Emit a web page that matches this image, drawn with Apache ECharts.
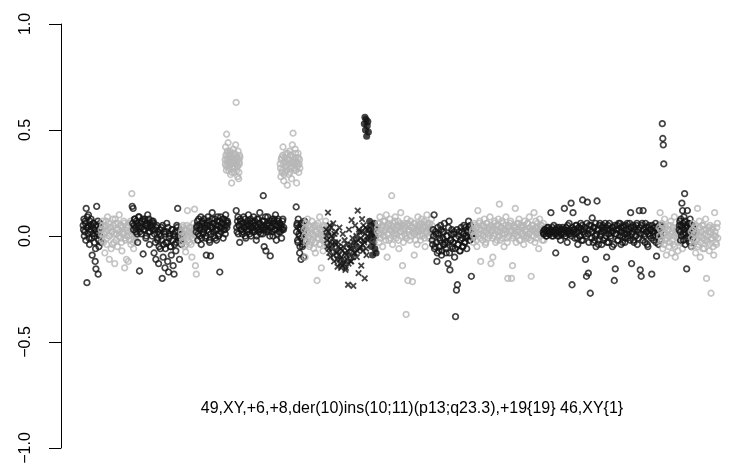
<!DOCTYPE html>
<html>
<head>
<meta charset="utf-8">
<script src="https://cdn.jsdelivr.net/npm/echarts@6/dist/echarts.min.js"></script>
<style>
  html, body { margin: 0; padding: 0; background: #ffffff; }
  #chart { width: 733px; height: 468px; }
</style>
</head>
<body>
<div id="chart"></div>
<script>
// Log2 ratio per probe, listed chromosome by chromosome in genome order.
const chr1 = [0.05,0.03, 0.08,0.0, 0.02,0.07, 0.06,-0.02, 0.13,0.04, -0.22,0.09, 0.04,0.01, 0.10,0.05, -0.01,-0.04, 0.07,0.02, 0.03,0.08, 0.05,-0.01, -0.09,0.04, 0.01,0.06, 0.06,0.0, -0.03,0.03, -0.12,-0.06, -0.155,0.05, 0.14,0.01, 0.02,0.07, -0.18,-0.02, -0.05,0.03, 0.0,0.06, 0.04,-0.03];
const chr2 = [0.03,0.01, -0.02,0.05, 0.07,-0.03, 0.01,0.04, -0.08,0.02, 0.05,0.07, -0.04,-0.01, 0.09,0.03, 0.0,0.06, -0.11,0.0, 0.04,0.04, -0.06,0.02, 0.02,-0.04, 0.08,0.05, -0.03,0.01, -0.13,0.08, 0.06,-0.02, 0.01,0.03, -0.05,0.06, 0.03,0.0, 0.1,0.02, -0.01,0.05, 0.05,-0.03, -0.07,0.04, 0.02,0.01, 0.07,0.06, -0.15,-0.01, -0.02,0.03, -0.11,0.0, 0.04,0.05, -0.12,0.02, 0.0,-0.02, 0.06,0.07, -0.04,0.01, 0.2,0.04, 0.03,-0.03, -0.06,0.02, 0.08,0.06, -0.02,0.0, 0.01,0.03];
const chr3 = [0.14,0.06, 0.13,0.03, 0.05,0.08, 0.08,0.04, 0.02,0.07, 0.06,0.01, -0.03,0.05, 0.09,0.09, -0.165,0.02, 0.04,0.06, 0.01,0.04, 0.07,0.08, -0.085,0.03, 0.03,0.07, 0.08,0.05, -0.01,0.0, 0.05,0.06, 0.1,0.04, 0.02,0.08, -0.04,0.02, 0.06,0.05, 0.04,0.07, 0.0,0.03, 0.07,0.06, -0.08,0.01, 0.03,-0.03, -0.11,0.04, 0.05,-0.01, -0.02,0.02, -0.13,-0.05, 0.01,0.03, -0.06,0.0, 0.04,-0.02, -0.2,0.05, -0.1,-0.04, 0.02,0.01, -0.15,-0.06, -0.03,0.02, 0.06,-0.03, -0.12,0.04, -0.17,-0.01, 0.01,0.0, -0.05,-0.05, -0.09,0.03, 0.03,-0.02, -0.14,0.01, -0.18,-0.04, 0.0,0.02, -0.07,-0.03, 0.05,0.04, 0.13,0.0, -0.02,-0.01, -0.11,0.03, 0.02,-0.02, -0.04,0.01];
const chr4 = [0.02,0.0, -0.03,0.04, 0.05,-0.02, 0.0,0.03, -0.05,0.01, -0.075,-0.04, 0.03,0.05, 0.12,0.0, -0.02,0.02, 0.04,-0.03, 0.01,0.04, -0.04,0.01, -0.1,-0.01, 0.02,0.03, 0.06,-0.02, 0.127,0.02, -0.14,0.0, -0.18,0.04];
const chr5 = [0.02,0.04, 0.05,0.07, -0.02,0.01, 0.08,0.05, 0.0,0.03, 0.04,0.09, -0.04,-0.01, 0.07,0.06, 0.01,0.02, 0.03,0.08, 0.06,0.04, -0.01,0.0, -0.09,0.06, 0.05,0.03, 0.09,0.07, 0.02,-0.02, -0.03,0.05, -0.094,0.01, 0.04,0.08, 0.11,0.04, 0.06,0.02, 0.0,0.06, 0.08,-0.01, 0.03,0.05, -0.02,0.03, 0.07,0.09, 0.05,0.0, 0.01,0.07, -0.17,0.04, 0.09,0.02, 0.04,0.06, 0.06,0.08, -0.01,0.03, 0.08,0.05, 0.03,0.01, 0.1,0.07, 0.05,0.04, 0.07,0.06];
const chr6 = [0.36,0.34, 0.42,0.38, 0.33,0.31, 0.48,0.36, 0.39,0.4, 0.35,0.33, 0.44,0.37, 0.31,0.35, 0.38,0.32, 0.34,0.39, 0.4,0.36, 0.29,0.34, 0.36,0.38, 0.25,0.3, 0.37,0.35, 0.32,0.37, 0.41,0.33, 0.35,0.39, 0.3,0.36, 0.39,0.32, 0.34,0.38, 0.43,0.35, 0.63,0.34, 0.37,0.31, 0.33,0.37, 0.28,0.33, 0.4,0.36, 0.27,0.3, 0.35,0.34, 0.38,0.37];
const chr7 = [0.12,0.04, 0.02,0.07, 0.09,0.01, 0.05,0.05, -0.03,0.08, 0.07,0.03, 0.03,0.06, 0.01,0.02, 0.06,0.09, 0.04,0.04, 0.08,0.0, -0.01,0.06, 0.05,0.03, 0.02,0.07, 0.1,0.05, 0.03,0.01, 0.06,0.08, 0.0,0.04, 0.07,0.02, 0.04,0.06, 0.09,0.03, 0.02,0.07, 0.05,0.05, -0.02,0.0, 0.08,0.04, 0.03,0.08, 0.06,0.02, 0.11,0.06, 0.01,0.03, 0.04,0.05, 0.07,0.01, 0.19,0.07, -0.05,0.04, 0.03,0.09, -0.07,0.02, 0.05,0.06, 0.09,0.03, 0.02,0.05, 0.06,0.0, -0.094,0.07, 0.04,0.04, 0.08,0.02, 0.0,0.06, 0.07,0.08, 0.03,0.03, 0.1,0.05, -0.02,0.01, 0.05,0.07, 0.08,0.04, 0.02,0.06, 0.06,0.02, 0.04,0.05, -0.01,0.03, 0.07,0.08, 0.03,0.04];
const chr8 = [0.34,0.32, 0.28,0.36, 0.37,0.3, 0.31,0.38, 0.42,0.34, 0.26,0.29, 0.35,0.37, 0.3,0.33, 0.39,0.35, 0.33,0.31, 0.24,0.39, 0.36,0.34, 0.29,0.36, 0.4,0.3, 0.32,0.38, 0.38,0.33, 0.27,0.35, 0.43,0.37, 0.485,0.32, 0.35,0.36, 0.31,0.34, 0.41,0.39, 0.37,0.31, 0.25,0.35, 0.34,0.33, 0.39,0.37, 0.3,0.34, 0.36,0.32];
const chr9 = [0.137,0.02, 0.05,0.06, -0.02,-0.03, 0.08,0.04, 0.01,0.0, -0.08,-0.05, 0.04,0.03, -0.11,-0.01, 0.06,0.05, -0.05,-0.04, 0.02,0.01, -0.1,0.03, 0.07,-0.02];
const chr10 = [0.03,0.0, -0.1,0.04, 0.06,-0.03, -0.02,0.02, 0.08,-0.01, 0.0,0.05, -0.05,-0.04, 0.04,0.01, -0.03,0.03, 0.07,-0.02, 0.01,0.04, -0.06,0.0, 0.05,-0.03, -0.08,0.02, 0.02,0.05, -0.21,-0.01, 0.06,0.01, -0.01,-0.04, 0.09,0.03, -0.04,0.0, -0.15,0.02, 0.03,-0.02, -0.07,0.04, 0.05,-0.01, -0.02,0.03, 0.07,-0.03, 0.0,0.01, -0.05,0.02];
// chr11: the inserted stretch (crosses) and the distal q arm (filled dots)
const chr11ins = [0.03,0.0, -0.02,-0.05, 0.11,0.02, -0.06,-0.08, 0.05,-0.03, -0.1,0.04, 0.0,-0.06, -0.04,-0.01, 0.06,-0.09, -0.12,0.01, -0.03,-0.04, 0.02,-0.07, -0.08,-0.11, -0.145,-0.03, -0.05,-0.09, 0.04,-0.13, -0.11,-0.06, -0.15,-0.1, -0.07,-0.14, 0.01,-0.05, -0.13,-0.12, -0.02,-0.08, -0.16,-0.15, -0.09,-0.11, -0.04,-0.07, -0.23,-0.13, 0.03,-0.09, -0.06,-0.04, -0.12,-0.12, 0.075,-0.06, -0.01,-0.1, -0.235,-0.03, -0.08,-0.08, 0.05,-0.05, -0.03,0.0, -0.1,-0.07, 0.12,-0.02, -0.175,0.03, 0.02,-0.06, -0.05,-0.01, -0.14,0.02, 0.08,-0.04, -0.07,0.05, -0.02,-0.03, -0.2,0.01, 0.04,-0.06, -0.09,0.03, 0.0,-0.02];
const chr11q = [0.53, 0.56, 0.5, 0.55, 0.47, 0.52, 0.54, 0.49, 0.03, 0.07, -0.01, 0.05, -0.05, 0.01, -0.09, 0.02, -0.03, 0.06, -0.06, 0.0, -0.08, 0.04];
const chr12 = [0.02,0.04, 0.06,0.01, -0.03,0.06, 0.09,-0.01, 0.01,0.03, 0.04,0.05, -0.05,0.0, 0.07,0.02, 0.0,0.07, 0.03,-0.02, 0.1,0.04, -0.1,0.01, 0.05,0.06, -0.02,0.03, 0.08,-0.01, 0.03,0.05, 0.19,0.02, -0.04,0.04, 0.06,0.0, 0.01,0.07, 0.09,0.03, -0.01,0.01, 0.04,0.05, 0.07,-0.02, -0.06,0.04, 0.02,0.06, 0.11,0.02, 0.05,0.0, -0.14,0.03, -0.03,0.05, 0.06,0.01, 0.0,0.04, -0.37,-0.01, 0.08,0.06, -0.21,0.02, 0.03,0.03, -0.02,0.05, 0.07,0.0, 0.04,0.04, -0.215,0.02, 0.01,0.06, -0.09,0.01, 0.06,-0.02, 0.02,0.03, -0.04,0.05, 0.09,0.02, 0.03,0.04, 0.05,0.0, -0.02,0.06, 0.08,0.03, 0.0,0.01, 0.04,0.05, 0.07,-0.01, -0.05,0.04, 0.02,0.02, 0.1,0.06, 0.05,0.03, -0.01,0.0, 0.06,0.04, 0.03,0.02, 0.08,0.05, 0.01,0.01];
const chr13 = [-0.02,-0.04, 0.03,0.0, 0.1,-0.06, -0.05,0.02, 0.01,-0.03, -0.12,-0.08, 0.04,0.01, -0.07,-0.05, -0.01,-0.02, 0.05,0.03, -0.09,-0.07, 0.02,-0.01, -0.04,0.02, 0.06,-0.04, -0.03,-0.06, -0.08,0.0, 0.0,-0.03, -0.13,0.04, 0.07,-0.08, -0.16,-0.02, -0.02,0.01, 0.03,-0.05, -0.06,-0.03, 0.01,0.02, -0.1,-0.06, -0.38,-0.01, -0.255,0.03, -0.23,-0.04, -0.04,0.0, 0.02,-0.07, -0.07,-0.02, 0.04,0.02, -0.01,-0.05, -0.05,0.01, 0.05,-0.03, -0.03,0.04, 0.0,-0.01, -0.06,0.02, 0.03,0.0, 0.07,0.04, -0.02,-0.02, 0.05,0.03, -0.19,0.01, 0.01,-0.01];
const chr14 = [0.02,0.03, -0.03,0.0, 0.06,0.05, 0.0,0.02, 0.04,-0.02, -0.05,0.04, 0.12,0.01, 0.03,0.06, 0.07,-0.01, -0.12,0.03,
  0.01,0.05, -0.02,0.0, 0.05,0.02, 0.08,0.04, -0.04,-0.03, 0.02,0.06, 0.06,0.01, -0.01,0.03, 0.04,0.0, 0.09,0.05,
  -0.13,0.02, 0.03,-0.01, -0.1,0.04, 0.0,0.06, 0.07,0.01, -0.03,0.03, 0.05,-0.02, 0.02,0.05, 0.08,0.0, 0.15,0.02,
  -0.02,0.04, 0.04,0.07, 0.01,-0.01, 0.06,0.03, -0.05,0.01, 0.03,0.05, 0.09,0.02, -0.01,-0.03, -0.2,0.04, 0.05,0.0,
  0.02,0.06, 0.07,0.02, -0.2,0.03, -0.14,-0.01, 0.0,0.05, 0.04,0.01, 0.13,0.04, -0.03,0.0, 0.06,0.03, 0.02,0.06,
  0.08,-0.02, -0.02,0.02, 0.05,0.04, 0.01,0.01, 0.04,0.05, -0.04,0.0, 0.07,0.03, 0.03,-0.01, 0.0,0.02, 0.06,0.06,
  -0.01,0.01, 0.09,0.04, 0.02,-0.02, -0.19,0.03, 0.05,0.05, 0.03,0.0, 0.11,0.02, -0.03,0.04, 0.07,-0.01, 0.01,0.06,
  0.04,0.02, -0.06,0.03, 0.08,0.0, 0.02,0.05, 0.05,0.01, -0.02,0.03, 0.06,-0.02, 0.03,0.04];
const chr15 = [0.02,0.01, 0.01,0.03, 0.03,0.02, 0.0,0.0, 0.02,0.04, 0.04,0.02, 0.01,0.01, 0.03,0.03, 0.11,0.02, 0.0,0.04,
  0.02,0.0, 0.05,0.02, 0.01,0.03, -0.08,0.01, 0.03,0.04, 0.0,0.02, 0.02,0.0, 0.04,0.03, -0.02,0.01, 0.01,0.02,
  0.03,0.04, 0.02,0.01, 0.13,0.03, 0.0,0.0, 0.04,0.02, -0.03,0.05, 0.02,0.01, 0.06,0.03, 0.01,0.02, 0.155,0.0,
  -0.23,0.04, 0.11,0.02, 0.03,0.03, -0.01,0.01, 0.05,0.05, 0.02,-0.01, -0.04,0.02, 0.04,0.04, 0.0,0.0, 0.06,0.03,
  -0.02,0.05, 0.17,-0.02, 0.03,0.02, 0.01,0.04, -0.11,0.0, -0.19,0.06, 0.16,0.01, -0.175,-0.03, 0.05,0.03, -0.27,0.05,
  0.02,-0.01, 0.085,0.02, -0.03,0.04, 0.04,-0.02, 0.0,0.06, -0.05,0.01, 0.165,0.03, 0.03,-0.04, -0.02,0.05, 0.06,0.0,
  0.01,0.02, -0.04,0.04, 0.05,-0.02, 0.02,0.03, -0.01,0.06, 0.04,0.0, -0.1,-0.03, 0.03,0.05, -0.03,0.01, 0.06,0.03,
  0.0,-0.01, 0.02,0.04, -0.05,0.02, 0.04,-0.04, -0.21,0.05, -0.155,0.01, 0.01,0.03, 0.05,-0.02, -0.02,0.06, 0.03,0.0,
  0.06,0.02, -0.04,0.04, 0.02,-0.03, 0.0,0.05, 0.04,0.01, -0.03,-0.01, 0.05,0.03, 0.01,0.06, -0.01,0.0, 0.03,0.02,
  0.06,-0.02, 0.11,0.04, -0.13,0.01, 0.02,0.05, -0.02,-0.03, 0.04,0.03, 0.0,0.0, 0.05,0.06, -0.04,0.02, 0.03,-0.01,
  0.12,0.04, -0.16,0.01, -0.19,0.05, 0.06,-0.02, 0.12,0.03, 0.01,0.0, -0.03,0.06, 0.04,0.02, 0.02,-0.04, -0.05,0.04,
  0.05,0.01, 0.0,0.03, 0.03,-0.01, -0.18,0.05, 0.02,0.0, -0.02,0.02, 0.04,0.04, 0.06,-0.03, -0.095,0.03, 0.01,0.01,
  -0.04,0.05, 0.03,-0.02, 0.0,0.02, 0.05,0.04, 0.53, 0.46, 0.43, 0.34];
const chr16 = [0.04,0.0, 0.11,0.03, -0.03,-0.02, 0.06,0.05, -0.06,0.01, 0.01,-0.04, 0.08,0.02, -0.02,0.04, -0.09,-0.01, 0.03,0.0, 0.05,0.03, -0.05,-0.03, 0.0,0.05, 0.07,0.01, -0.08,-0.02, 0.02,0.04, -0.04,0.0, 0.09,-0.05, -0.1,0.02, 0.01,0.03, 0.04,-0.01, -0.07,0.01, -0.01,0.04, 0.06,-0.03, -0.03,0.0, 0.02,0.02, -0.06,-0.02, 0.03,0.01];
const chr17 = [0.03,0.05, 0.07,0.02, -0.02,0.08, 0.05,0.0, 0.155,0.04, 0.12,0.06, 0.01,-0.02, 0.09,0.03, 0.2,0.07, -0.04,0.01, 0.04,0.05, -0.155,-0.01, 0.12,0.04, 0.0,0.06, 0.06,0.02, -0.03,0.0, 0.08,0.05, 0.02,-0.03, -0.05,0.03, 0.05,0.01, -0.01,0.04, 0.03,0.02];
const chr18 = [0.02,-0.01, -0.05,0.03, 0.06,-0.04, -0.02,0.01, 0.04,0.05, -0.08,-0.02, 0.01,0.02, 0.13,-0.05, -0.04,0.0, 0.07,0.04, -0.1,-0.03, 0.0,0.02, 0.05,-0.01, -0.06,0.05, 0.03,-0.06, -0.02,0.01, 0.08,0.03, -0.2,-0.02, -0.03,0.0, 0.02,0.04, -0.07,-0.04, 0.05,0.02, -0.27,-0.01, -0.01,0.03, 0.04,-0.05, -0.09,0.0, 0.11,0.02, 0.0,-0.03, -0.04,0.04, 0.06,-0.01];

// Genomic span of each block on the x scale (start, end).
const spans = {
  chr1: [22, 40], chr2: [40, 76], chr3: [71, 121], chr4: [120, 136], chr5: [135, 167],
  chr6: [164, 179], chr7: [175, 223], chr8: [219, 239], chr9: [235, 244], chr10: [243, 267],
  chr11ins: [265, 307], chr11q: [303, 316], chr12: [316, 372], chr13: [371, 412],
  chr14: [411, 484], chr15: [482, 603], chr16: [598, 623], chr17: [618, 633], chr18: [630, 657]
};

const yTicks = [-1, -0.5, 0, 0.5, 1];
const caption = '49,XY,+6,+8,der(10)ins(10;11)(p13;q23.3),+19{19} 46,XY{1}';

const DARK = '#141414';
const LIGHT = '#b6b6b6';

const blocks = [
  ['chr1', chr1, 'dark'], ['chr2', chr2, 'light'], ['chr3', chr3, 'dark'], ['chr4', chr4, 'light'],
  ['chr5', chr5, 'dark'], ['chr6', chr6, 'light'], ['chr7', chr7, 'dark'], ['chr8', chr8, 'light'],
  ['chr9', chr9, 'dark'], ['chr10', chr10, 'light'], ['chr11ins', chr11ins, 'cross'], ['chr11q', chr11q, 'solid'],
  ['chr12', chr12, 'light'], ['chr13', chr13, 'dark'], ['chr14', chr14, 'light'], ['chr15', chr15, 'dark'],
  ['chr16', chr16, 'light'], ['chr17', chr17, 'dark'], ['chr18', chr18, 'light']
];

// Probes are spread evenly across their block's span.
function place(values, span) {
  const step = (span[1] - span[0]) / values.length;
  return values.map((v, i) => [span[0] + (i + 0.5) * step, v]);
}

function markStyle(kind) {
  if (kind === 'cross') {
    return {
      symbol: 'path://M0,0L10,10M10,0L0,10',
      symbolSize: 5.5,
      itemStyle: { color: 'rgba(0,0,0,0)', borderColor: DARK, borderWidth: 1.8 }
    };
  }
  if (kind === 'solid') {
    return { symbol: 'circle', symbolSize: 7, itemStyle: { color: DARK, borderWidth: 0 } };
  }
  return {
    symbol: 'circle',
    symbolSize: 5.6,
    itemStyle: { color: 'rgba(0,0,0,0)', borderColor: kind === 'dark' ? DARK : LIGHT, borderWidth: 1.7 }
  };
}

const series = blocks.map(([name, values, kind]) => Object.assign({
  type: 'scatter',
  name: name,
  data: place(values, spans[name]),
  silent: true,
  animation: false
}, markStyle(kind)));

const chart = echarts.init(document.getElementById('chart'), null, { renderer: 'canvas' });
chart.setOption({
  backgroundColor: '#ffffff',
  animation: false,
  grid: { left: 61, right: 0, top: 24, bottom: 20, containLabel: false },
  xAxis: { type: 'value', min: 0, max: 672, show: false },
  yAxis: {
    type: 'value',
    min: yTicks[0],
    max: yTicks[yTicks.length - 1],
    interval: 0.5,
    splitLine: { show: false },
    axisLine: { show: true, lineStyle: { color: '#000', width: 1 } },
    axisTick: { show: true, length: 12, lineStyle: { color: '#000', width: 1 } },
    axisLabel: {
      rotate: 90,
      margin: 27,
      fontSize: 16,
      fontFamily: 'Liberation Sans, Arial, sans-serif',
      color: '#000',
      formatter: v => v.toFixed(1).replace('-', '\u2212')
    }
  },
  graphic: [{
    type: 'text',
    silent: true,
    style: {
      text: caption,
      x: 412,
      y: 409,
      textAlign: 'center',
      textVerticalAlign: 'middle',
      font: '16px "Liberation Sans", Arial, sans-serif',
      fill: '#000'
    }
  }],
  series: series
});
</script>
</body>
</html>
